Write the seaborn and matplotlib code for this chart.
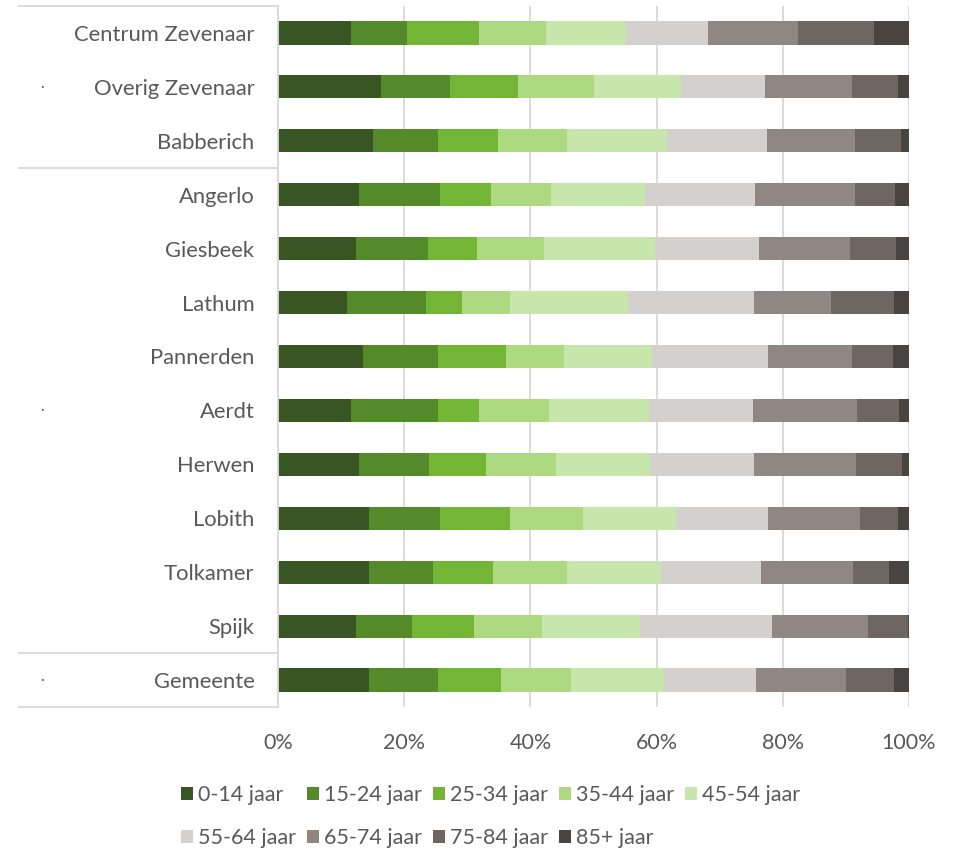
import matplotlib
matplotlib.use("Agg")
import matplotlib.pyplot as plt
import matplotlib.transforms as mtransforms
from matplotlib.patches import Patch
import seaborn as sns
import pandas as pd

locations = ["Centrum Zevenaar", "Overig Zevenaar", "Babberich", "Angerlo", "Giesbeek",
             "Lathum", "Pannerden", "Aerdt", "Herwen", "Lobith", "Tolkamer", "Spijk", "Gemeente"]
age_groups = ["0-14 jaar", "15-24 jaar", "25-34 jaar", "35-44 jaar", "45-54 jaar",
              "55-64 jaar", "65-74 jaar", "75-84 jaar", "85+ jaar"]

age_0_14 = [11.6, 16.4, 15.1, 12.9, 12.3, 11.0, 13.5, 11.6, 12.9, 14.5, 14.5, 12.3, 14.5]
age_15_24 = [8.9, 10.8, 10.2, 12.7, 11.4, 12.4, 11.8, 13.7, 11.1, 11.1, 10.1, 8.9, 10.8]
age_25_34 = [11.4, 10.8, 9.5, 8.2, 7.9, 5.7, 10.8, 6.6, 8.9, 11.1, 9.5, 9.8, 10.1]
age_35_44 = [10.5, 12.0, 11.0, 9.5, 10.5, 7.6, 9.2, 11.1, 11.1, 11.7, 11.7, 10.8, 11.1]
age_45_54 = [12.7, 13.9, 15.9, 14.9, 17.7, 18.7, 13.9, 15.8, 14.9, 14.6, 14.9, 15.5, 14.6]
age_55_64 = [13.0, 13.3, 15.8, 17.4, 16.5, 20.0, 18.4, 16.5, 16.5, 14.6, 15.8, 21.0, 14.6]
age_65_74 = [14.3, 13.7, 13.9, 15.8, 14.3, 12.3, 13.3, 16.5, 16.2, 14.6, 14.6, 15.2, 14.3]
age_75_84 = [12.1, 7.3, 7.3, 6.4, 7.3, 9.9, 6.6, 6.6, 7.3, 6.0, 5.7, 6.3, 7.6]
age_85_plus = [5.5, 1.8, 1.3, 2.2, 2.1, 2.4, 2.5, 1.6, 1.1, 1.8, 3.2, 0.2, 2.4]

x_ticks = [0, 20, 40, 60, 80, 100]
x_tick_labels = ["0%", "20%", "40%", "60%", "80%", "100%"]

colors = ["#375623", "#548A2A", "#73B636", "#ADDA81", "#C7E6AC",
          "#D4D0CD", "#908782", "#6E6660", "#4A4441"]

series = [age_0_14, age_15_24, age_25_34, age_35_44, age_45_54,
          age_55_64, age_65_74, age_75_84, age_85_plus]
df = pd.DataFrame(dict(zip(age_groups, series)), index=locations)
cum = df.cumsum(axis=1)

sns.set_theme(style="white")
plt.rcParams['font.family'] = ['Lato', 'DejaVu Sans']

text_color = "#595959"
grid_color = "#D9D9D9"

fig = plt.figure(figsize=(9.6, 8.49), dpi=100)
ax = fig.add_axes([278 / 960, 1 - 707 / 849, 631 / 960, 701 / 849])

for grp, col in reversed(list(zip(age_groups, colors))):
    sns.barplot(x=cum[grp].values, y=locations, order=locations, orient="h",
                color=col, saturation=1, width=0.43, errorbar=None,
                edgecolor="none", linewidth=0, ax=ax)

ax.set_xlim(0, 100)
ax.set_ylim(12.5, -0.5)
ax.set_xticks(x_ticks)
ax.set_xticklabels(x_tick_labels)
ax.set_xlabel("")
ax.set_ylabel("")
ax.xaxis.grid(True, color=grid_color, linewidth=1.3)
ax.yaxis.grid(False)
ax.set_axisbelow(True)
for s in ["top", "right", "bottom"]:
    ax.spines[s].set_visible(False)
ax.spines["left"].set_color(grid_color)
ax.spines["left"].set_linewidth(1.3)
ax.tick_params(axis="x", length=0, pad=19, labelsize=15.5, labelcolor=text_color)
ax.tick_params(axis="y", length=0, pad=17, labelsize=15.8, labelcolor=text_color)

# group separator lines in the label area
trans = mtransforms.blended_transform_factory(ax.transAxes, ax.transData)
x_left = (18 - 278) / 631
for yv in [-0.5, 2.5, 11.5, 12.5]:
    ax.plot([x_left, 0], [yv, yv], transform=trans, color=grid_color,
            linewidth=1.3, clip_on=False, solid_capstyle="butt")
# group label dots
x_dot = (42 - 278) / 631
for yv in [1, 7, 12]:
    ax.text(x_dot, yv, "·", transform=trans, ha="center", va="center",
            fontsize=10, color=text_color)

handles = [Patch(facecolor=c, edgecolor="none", label=g) for g, c in zip(age_groups, colors)]
order = [0, 5, 1, 6, 2, 7, 3, 8, 4]
fig.legend([handles[i] for i in order], [age_groups[i] for i in order],
           ncol=5, loc="upper left", bbox_to_anchor=(181 / 960, 1 - 785 / 849),
           frameon=False, fontsize=15.5, labelcolor=text_color, borderpad=0,
           borderaxespad=0, handlelength=0.55, handleheight=0.55, handletextpad=0.25,
           columnspacing=0.5, labelspacing=1.08)

fig.savefig("out.png", dpi=100)
